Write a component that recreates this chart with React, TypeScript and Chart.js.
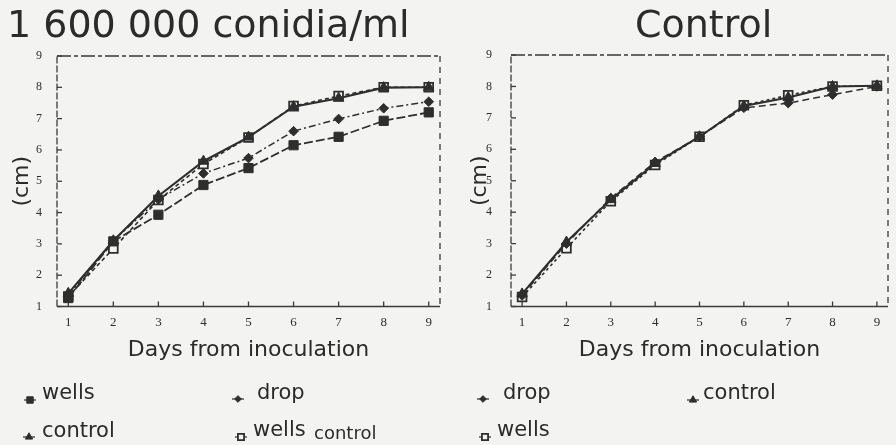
import React, { useEffect, useRef } from 'react';
import { Chart, registerables } from 'chart.js';
import { drawPoint } from 'chart.js/helpers';

Chart.register(...registerables);

// ---------------- data ----------------
const DAYS = [1, 2, 3, 4, 5, 6, 7, 8, 9];
const Y_TICKS = [1, 2, 3, 4, 5, 6, 7, 8, 9];

const LEFT_TITLE = '1 600 000 conidia/ml';
const RIGHT_TITLE = 'Control';
const X_TITLE = 'Days from inoculation';
const Y_TITLE = '(cm)';

const LEFT_LABELS = ['wells', 'drop', 'control', 'wells control'];
const LEFT_WELLS = [1.27, 3.08, 3.93, 4.88, 5.42, 6.15, 6.42, 6.93, 7.2];
const LEFT_DROP = [1.35, 3.1, 4.42, 5.25, 5.74, 6.6, 6.99, 7.33, 7.54];
const LEFT_CONTROL = [1.42, 3.1, 4.53, 5.64, 6.41, 7.38, 7.65, 7.99, 8.0];
const LEFT_WELLS_CONTROL = [1.32, 2.85, 4.4, 5.55, 6.4, 7.4, 7.72, 8.0, 8.0];

const RIGHT_LABELS = ['drop', 'control', 'wells'];
const RIGHT_DROP = [1.35, 3.0, 4.45, 5.6, 6.4, 7.32, 7.47, 7.74, 8.0];
const RIGHT_CONTROL = [1.4, 3.05, 4.4, 5.55, 6.4, 7.38, 7.65, 8.0, 8.02];
const RIGHT_WELLS = [1.3, 2.85, 4.35, 5.5, 6.4, 7.4, 7.72, 8.0, 8.02];

// ---------------- style ----------------
const BG = '#f3f3f1';
const INK = '#2e2e2e';
const SANS = '"DejaVu Sans", sans-serif';
const SERIF = '"Liberation Serif", serif';

type Style = {
  pointStyle: string;
  radius: number;
  filled: boolean;
  dash: number[];
  width: number;
};

const STYLE_WELLS: Style = { pointStyle: 'rect', radius: 6.5, filled: true, dash: [9, 3], width: 1.8 };
const STYLE_DROP: Style = { pointStyle: 'rectRot', radius: 4.8, filled: true, dash: [7, 3, 2, 3], width: 1.5 };
const STYLE_CONTROL: Style = { pointStyle: 'triangle', radius: 6, filled: true, dash: [], width: 2.1 };
const STYLE_WELLS_OPEN: Style = { pointStyle: 'rect', radius: 6.2, filled: false, dash: [4, 3], width: 1.6 };

function makeDataset(label: string, values: number[], s: Style) {
  return {
    label,
    data: values.map((y, i) => ({ x: DAYS[i], y })),
    borderColor: INK,
    borderWidth: s.width,
    borderDash: s.dash,
    backgroundColor: INK,
    pointStyle: s.pointStyle,
    pointRadius: s.radius,
    pointBackgroundColor: s.filled ? INK : BG,
    pointBorderColor: INK,
    pointBorderWidth: s.filled ? 1 : 1.8,
    tension: 0,
    fill: false,
  };
}

type LegendItem = { ds: number; mx: number; my: number; tx: number; ty: number; subX?: number };

const decorPlugin = {
  id: 'decor',
  beforeDraw(chart: any) {
    const ctx = chart.ctx;
    ctx.save();
    ctx.fillStyle = BG;
    ctx.fillRect(0, 0, chart.width, chart.height);
    ctx.restore();
  },
  beforeDatasetsDraw(chart: any) {
    const ctx = chart.ctx;
    const { left, right, top, bottom } = chart.chartArea;
    const r = Math.min(right, chart.width - 0.8);
    ctx.save();
    ctx.strokeStyle = '#3a3a3a';
    ctx.lineWidth = 1.3;
    const seg = (x1: number, y1: number, x2: number, y2: number, dash: number[]) => {
      ctx.setLineDash(dash);
      ctx.beginPath();
      ctx.moveTo(x1, y1);
      ctx.lineTo(x2, y2);
      ctx.stroke();
    };
    seg(left, bottom, r, bottom, []);
    seg(left, bottom, left, top, [7, 2]);
    seg(left, top, r, top, [14, 3, 4, 3]);
    seg(r, top, r, bottom, [6, 5]);
    ctx.setLineDash([]);
    const xs = chart.scales.x;
    const ys = chart.scales.y;
    DAYS.forEach((v) => {
      const px = xs.getPixelForValue(v);
      seg(px, bottom, px, bottom - 5, []);
    });
    Y_TICKS.forEach((v) => {
      const py = ys.getPixelForValue(v);
      seg(left, py, left + 5, py, []);
    });
    ctx.restore();
  },
  afterDraw(chart: any, _args: any, opts: any) {
    const ctx = chart.ctx;
    ctx.save();
    ctx.fillStyle = '#2b2b2b';
    ctx.textBaseline = 'alphabetic';
    ctx.textAlign = 'left';
    ctx.font = `38px ${SANS}`;
    ctx.fillText(opts.title, opts.titleX, 37);

    (opts.legend as LegendItem[]).forEach((it) => {
      const ds = chart.data.datasets[it.ds];
      ctx.strokeStyle = INK;
      ctx.lineWidth = 1.2;
      ctx.setLineDash([]);
      ctx.beginPath();
      ctx.moveTo(it.mx - 6, it.my);
      ctx.lineTo(it.mx + 6, it.my);
      ctx.stroke();
      ctx.fillStyle = ds.pointBackgroundColor;
      ctx.strokeStyle = ds.pointBorderColor;
      ctx.lineWidth = ds.pointBorderWidth;
      drawPoint(ctx, { pointStyle: ds.pointStyle, radius: ds.pointRadius * 0.7, rotation: 0, borderWidth: ds.pointBorderWidth }, it.mx, it.my);
      ctx.fillStyle = '#2b2b2b';
      const label: string = ds.label;
      if (it.subX !== undefined && label.includes(' ')) {
        const idx = label.indexOf(' ');
        ctx.font = `21px ${SANS}`;
        ctx.fillText(label.slice(0, idx), it.tx, it.ty);
        ctx.font = `18px ${SANS}`;
        ctx.fillText(label.slice(idx + 1), it.subX, it.ty + 3);
      } else {
        ctx.font = `21px ${SANS}`;
        ctx.fillText(label, it.tx, it.ty);
      }
    });
    ctx.restore();
  },
};

function buildOptions(p: {
  padTop: number;
  padRight: number;
  yWidth: number;
  yTickPad: number;
  yTitlePad: number;
  decor: any;
}) {
  return {
    responsive: false,
    animation: false as const,
    devicePixelRatio: 1,
    layout: { padding: { left: 0, top: p.padTop, right: p.padRight, bottom: 78.5 } },
    plugins: {
      legend: { display: false },
      tooltip: { enabled: false },
      title: { display: false },
      decor: p.decor,
    },
    scales: {
      x: {
        type: 'linear' as const,
        min: 0.75,
        max: 9.25,
        afterBuildTicks: (s: any) => {
          s.ticks = DAYS.map((v) => ({ value: v }));
        },
        afterFit: (s: any) => {
          s.height = 60;
        },
        grid: { display: false },
        border: { display: false },
        ticks: {
          autoSkip: false,
          maxRotation: 0,
          padding: 0,
          color: INK,
          font: { family: SERIF, size: 13 },
          callback: (v: any) => String(v),
        },
        title: {
          display: true,
          text: X_TITLE,
          color: '#2b2b2b',
          font: { family: SANS, size: 22 },
          padding: { top: 0, bottom: 3 },
        },
      },
      y: {
        type: 'linear' as const,
        min: 1,
        max: 9,
        afterBuildTicks: (s: any) => {
          s.ticks = Y_TICKS.map((v) => ({ value: v }));
        },
        afterFit: (s: any) => {
          s.width = p.yWidth;
        },
        grid: { display: false },
        border: { display: false },
        ticks: {
          padding: p.yTickPad,
          color: INK,
          font: { family: SERIF, size: 12 },
          callback: (v: any) => String(v),
        },
        title: {
          display: true,
          text: Y_TITLE,
          color: '#2b2b2b',
          font: { family: SANS, size: 22 },
          padding: { top: p.yTitlePad, bottom: 0 },
        },
      },
    },
  };
}

function Panel(props: { config: any; left: number }) {
  const ref = useRef<HTMLCanvasElement | null>(null);
  useEffect(() => {
    if (!ref.current) return;
    const chart = new Chart(ref.current, props.config);
    return () => chart.destroy();
  }, [props.config]);
  return (
    <canvas
      ref={ref}
      width={448}
      height={445}
      style={{ position: 'absolute', left: props.left, top: 0, width: 448, height: 445, display: 'block' }}
    />
  );
}

const leftConfig = {
  type: 'line' as const,
  plugins: [decorPlugin],
  data: {
    datasets: [
      makeDataset(LEFT_LABELS[0], LEFT_WELLS, STYLE_WELLS),
      makeDataset(LEFT_LABELS[1], LEFT_DROP, STYLE_DROP),
      makeDataset(LEFT_LABELS[2], LEFT_CONTROL, STYLE_CONTROL),
      makeDataset(LEFT_LABELS[3], LEFT_WELLS_CONTROL, STYLE_WELLS_OPEN),
    ],
  },
  options: buildOptions({
    padTop: 56,
    padRight: 6,
    yWidth: 57,
    yTickPad: 7,
    yTitlePad: 9,
    decor: {
      title: LEFT_TITLE,
      titleX: 7,
      legend: [
        { ds: 0, mx: 30, my: 400, tx: 42, ty: 399 },
        { ds: 1, mx: 238, my: 399, tx: 257, ty: 399 },
        { ds: 2, mx: 29, my: 437, tx: 42, ty: 437 },
        { ds: 3, mx: 241, my: 437, tx: 253, ty: 436, subX: 314 },
      ],
    },
  }),
};

const rightConfig = {
  type: 'line' as const,
  plugins: [decorPlugin],
  data: {
    datasets: [
      makeDataset(RIGHT_LABELS[0], RIGHT_DROP, { ...STYLE_DROP, dash: [7, 4] }),
      makeDataset(RIGHT_LABELS[1], RIGHT_CONTROL, STYLE_CONTROL),
      makeDataset(RIGHT_LABELS[2], RIGHT_WELLS, { ...STYLE_WELLS_OPEN, dash: [3, 3] }),
    ],
  },
  options: buildOptions({
    padTop: 55,
    padRight: 0,
    yWidth: 63,
    yTickPad: 11,
    yTitlePad: 19,
    decor: {
      title: RIGHT_TITLE,
      titleX: 187,
      legend: [
        { ds: 0, mx: 35, my: 399, tx: 55, ty: 399 },
        { ds: 1, mx: 245, my: 400, tx: 255, ty: 399 },
        { ds: 2, mx: 37, my: 437, tx: 49, ty: 436 },
      ],
    },
  }),
};

export default function App() {
  return (
    <div style={{ position: 'absolute', left: 0, top: 0, width: 896, height: 445, background: BG, overflow: 'hidden' }}>
      <Panel config={leftConfig} left={0} />
      <Panel config={rightConfig} left={448} />
    </div>
  );
}
